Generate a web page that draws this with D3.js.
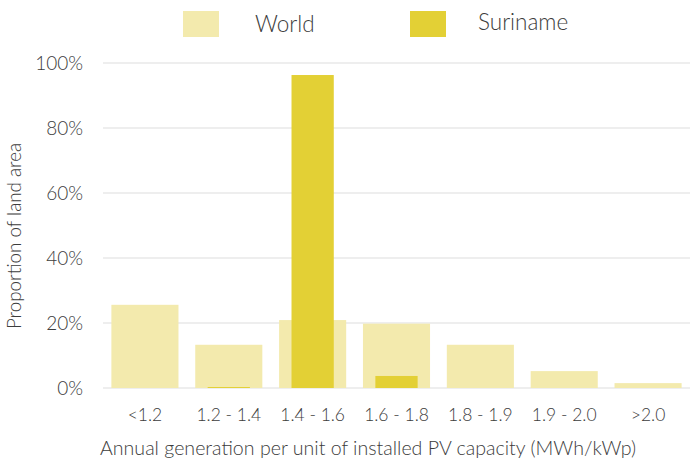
<!DOCTYPE html>
<html>
<head>
<meta charset="utf-8">
<script src="https://cdn.jsdelivr.net/npm/d3@7"></script>
<style>
  html, body { margin: 0; padding: 0; background: #fff; }
  svg text { font-family: Lato, "Open Sans", sans-serif; font-weight: 300; fill: #3c3c3c; }
</style>
</head>
<body>
<svg id="chart" width="690" height="464"></svg>
<script>
const categories = ["<1.2", "1.2 - 1.4", "1.4 - 1.6", "1.6 - 1.8", "1.8 - 1.9", "1.9 - 2.0", ">2.0"];
const worldValues = [25.6, 13.3, 20.9, 19.8, 13.3, 5.2, 1.5];
const surinameValues = [0, 0.3, 96.3, 3.7, 0, 0, 0];
const yTicks = [0, 20, 40, 60, 80, 100];
const seriesNames = ["World", "Suriname"];
const colors = ["#f3eaad", "#e3d035"];

const svg = d3.select("#chart");
const plotLeft = 103, plotRight = 690, plotTop = 63, plotBottom = 388;

const x = d3.scaleBand().domain(categories).range([plotLeft, plotRight]).paddingInner(0.2).paddingOuter(0.1);
const y = d3.scaleLinear().domain([0, 100]).range([plotBottom, plotTop]);

// gridlines
svg.append("g").selectAll("line").data(yTicks).join("line")
  .attr("x1", plotLeft).attr("x2", plotRight)
  .attr("y1", d => y(d)).attr("y2", d => y(d))
  .attr("stroke", "#eeeeee").attr("stroke-width", 2);

// y tick labels
svg.append("g").selectAll("text").data(yTicks).join("text")
  .attr("x", 83).attr("y", d => y(d)).attr("dy", "0.35em")
  .attr("text-anchor", "end").attr("font-size", 19)
  .text(d => d + "%");

// world bars
svg.append("g").selectAll("rect").data(categories).join("rect")
  .attr("x", d => x(d)).attr("width", x.bandwidth())
  .attr("y", (d, i) => y(worldValues[i]))
  .attr("height", (d, i) => y(0) - y(worldValues[i]))
  .attr("fill", colors[0]);

// suriname bars
const sw = x.bandwidth() * 0.63;
svg.append("g").selectAll("rect").data(categories).join("rect")
  .attr("x", d => x(d) + (x.bandwidth() - sw) / 2).attr("width", sw)
  .attr("y", (d, i) => y(surinameValues[i]))
  .attr("height", (d, i) => y(0) - y(surinameValues[i]))
  .attr("fill", colors[1]);

// x tick labels
svg.append("g").selectAll("text").data(categories).join("text")
  .attr("x", d => x(d) + x.bandwidth() / 2).attr("y", 421)
  .attr("text-anchor", "middle").attr("font-size", 17.5)
  .text(d => d);

// axis titles
svg.append("text").attr("x", 368).attr("y", 455).attr("text-anchor", "middle")
  .attr("font-size", 19.6).text("Annual generation per unit of installed PV capacity (MWh/kWp)");
svg.append("text").attr("transform", "translate(21,236) rotate(-90)")
  .attr("text-anchor", "middle").attr("font-size", 18.8).text("Proportion of land area");

// legend
const legendX = [183, 410];
const legendTextX = [255, 478];
const legendBase = [32, 30];
const lg = svg.append("g").selectAll("g").data(seriesNames).join("g");
lg.append("rect").attr("x", (d, i) => legendX[i]).attr("y", 11)
  .attr("width", 36).attr("height", 26).attr("fill", (d, i) => colors[i]);
lg.append("text").attr("x", (d, i) => legendTextX[i]).attr("y", (d, i) => legendBase[i])
  .attr("font-size", 22.5).text(d => d);
</script>
</body>
</html>
